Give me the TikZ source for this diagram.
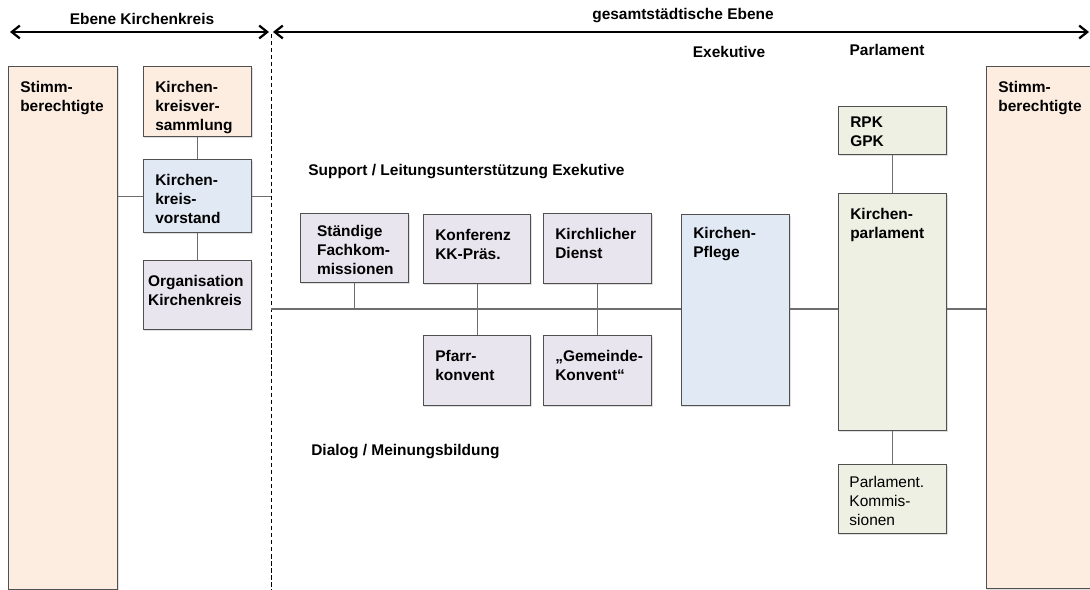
\documentclass[tikz,border=0pt]{standalone}
\usepackage{fontspec}
\setmainfont{Liberation Sans}
\usetikzlibrary{arrows.meta, shadows}
\definecolor{peach}{RGB}{253,237,225}
\definecolor{kblue}{RGB}{225,233,244}
\definecolor{lilac}{RGB}{233,229,239}
\definecolor{kgreen}{RGB}{238,240,228}
\definecolor{frame}{RGB}{80,80,80}
\definecolor{linegray}{RGB}{110,110,110}
\tikzstyle{box} = [rectangle, anchor=north west, inner sep=0pt, draw=frame, line width=0.9pt, drop shadow={shadow xshift=0.6pt, shadow yshift=-0.8pt, opacity=0.25}]
\tikzstyle{txt} = [anchor=north west, align=left, inner xsep=0.3cm, inner ysep=0.37cm, font=\fontsize{11}{13.5}\selectfont\bfseries]
\tikzstyle{txtn} = [anchor=north west, align=left, inner xsep=0.28cm, inner ysep=0.3cm, font=\fontsize{11}{13.5}\selectfont]
\tikzstyle{head} = [font=\fontsize{11}{13.5}\selectfont\bfseries, inner sep=0pt]
\tikzstyle{line} = [draw=linegray, line width=0.8pt]
\tikzstyle{arrow} = [{Straight Barb[length=2mm,width=3.2mm,line width=1.6pt]}-{Straight Barb[length=2mm,width=3.2mm,line width=1.6pt]}, line width=1.1pt]

\begin{document}
\begin{tikzpicture}[x=0.025cm, y=-0.025cm]
	\useasboundingbox (0,0) rectangle (1090,590);
	\clip (0,0) rectangle (1090,590);
	% Ebene Kirchenkreis
	\node (lSt) [box, fill=peach, minimum width=2.725cm, minimum height=13.075cm, label={[txt]north west:Stimm-\\berechtigte}] at (8,66) {};
	\node (KKV) [box, fill=peach, minimum width=2.7cm, minimum height=1.75cm, label={[txt]north west:Kirchen-\\kreisver-\\sammlung}] at (143,66) {};
	\node (Vst) [box, fill=kblue, minimum width=2.7cm, minimum height=1.825cm, label={[txt]north west:Kirchen-\\kreis-\\vorstand}] at (143,159) {};
	\node (Org) [box, fill=lilac, minimum width=2.7cm, minimum height=1.725cm, label={[txt, inner xsep=0.12cm]north west:Organisation\\Kirchenkreis}] at (143,260) {};
	% gesamtstaedtische Ebene
	\node (Fach) [box, fill=lilac, minimum width=2.7cm, minimum height=1.725cm, label={[txt, inner xsep=0.42cm, inner ysep=0.3cm]north west:Ständige\\Fachkom-\\missionen}] at (300,213) {};
	\node (Konf) [box, fill=lilac, minimum width=2.675cm, minimum height=1.725cm, label={[txt]north west:Konferenz\\KK-Präs.}] at (423,214) {};
	\node (Dienst) [box, fill=lilac, minimum width=2.7cm, minimum height=1.75cm, label={[txt]north west:Kirchlicher\\Dienst}] at (543,213) {};
	\node (Pfarr) [box, fill=lilac, minimum width=2.675cm, minimum height=1.75cm, label={[txt]north west:Pfarr-\\konvent}] at (423,335) {};
	\node (Gem) [box, fill=lilac, minimum width=2.7cm, minimum height=1.75cm, label={[txt]north west:„Gemeinde-\\Konvent“}] at (543,335) {};
	\node (Pfl) [box, fill=kblue, minimum width=2.7cm, minimum height=4.775cm, label={[txt, inner ysep=0.32cm]north west:Kirchen-\\Pflege}] at (681,214) {};
	\node (RPK) [box, fill=kgreen, minimum width=2.7cm, minimum height=1.2cm, label={[txt, inner ysep=0.26cm]north west:RPK\\GPK}] at (838,106) {};
	\node (Parl) [box, fill=kgreen, minimum width=2.7cm, minimum height=5.925cm, label={[txt]north west:Kirchen-\\parlament}] at (838,193) {};
	\node (Komm) [box, fill=kgreen, minimum width=2.7cm, minimum height=1.725cm, label={[txtn]north west:Parlament.\\Kommis-\\sionen}] at (838,464) {};
	\node (rSt) [box, fill=peach, minimum width=3cm, minimum height=13.05cm, label={[txt]north west:Stimm-\\berechtigte}] at (986,66) {};

	\node (EKK) [head] at (142,19) {Ebene Kirchenkreis};
	\node (GE) [head] at (683,16) {gesamtstädtische Ebene};
	\node (Exe) [head] at (729,52) {Exekutive};
	\node (Par) [head] at (887,50) {Parlament};
	\node (Sup) [head, anchor=west] at (308,172) {Support / Leitungsunterstützung Exekutive};
	\node (Dia) [head, anchor=west] at (311,452) {Dialog / Meinungsbildung};

	\coordinate (lend) at (10,32);
	\coordinate (mida) at (269,32);
	\coordinate (midb) at (273,32);
	\coordinate (rend) at (1089,32);
	\coordinate (dtop) at (271,34);
	\coordinate (dbot) at (271,592);
	\coordinate (bus) at (271,309);
	\draw [arrow] (lend) -- (mida);
	\draw [arrow] (midb) -- (rend);
	\draw [densely dashed, line width=0.7pt] (dtop) -- (dbot);

	\draw [line] (lSt.east |- Vst.west) -- (Vst.west);
	\draw [line] (Vst.east) -- (Vst.east -| bus);
	\draw [line] (KKV.south) -- (Vst.north);
	\draw [line] (Vst.south) -- (Org.north);
	\draw [line] (bus) -- (Pfl.west |- bus);
	\draw [line] (Pfl.east |- bus) -- (Parl.west |- bus);
	\draw [line] (Parl.east |- bus) -- (rSt.west |- bus);
	\draw [line] (Fach.south) -- (Fach.south |- bus);
	\draw [line] (Konf.south) -- (Pfarr.north);
	\draw [line] (Dienst.south) -- (Gem.north);
	\draw [line] (RPK.south) -- (Parl.north);
	\draw [line] (Parl.south) -- (Komm.north);
\end{tikzpicture}
\end{document}
